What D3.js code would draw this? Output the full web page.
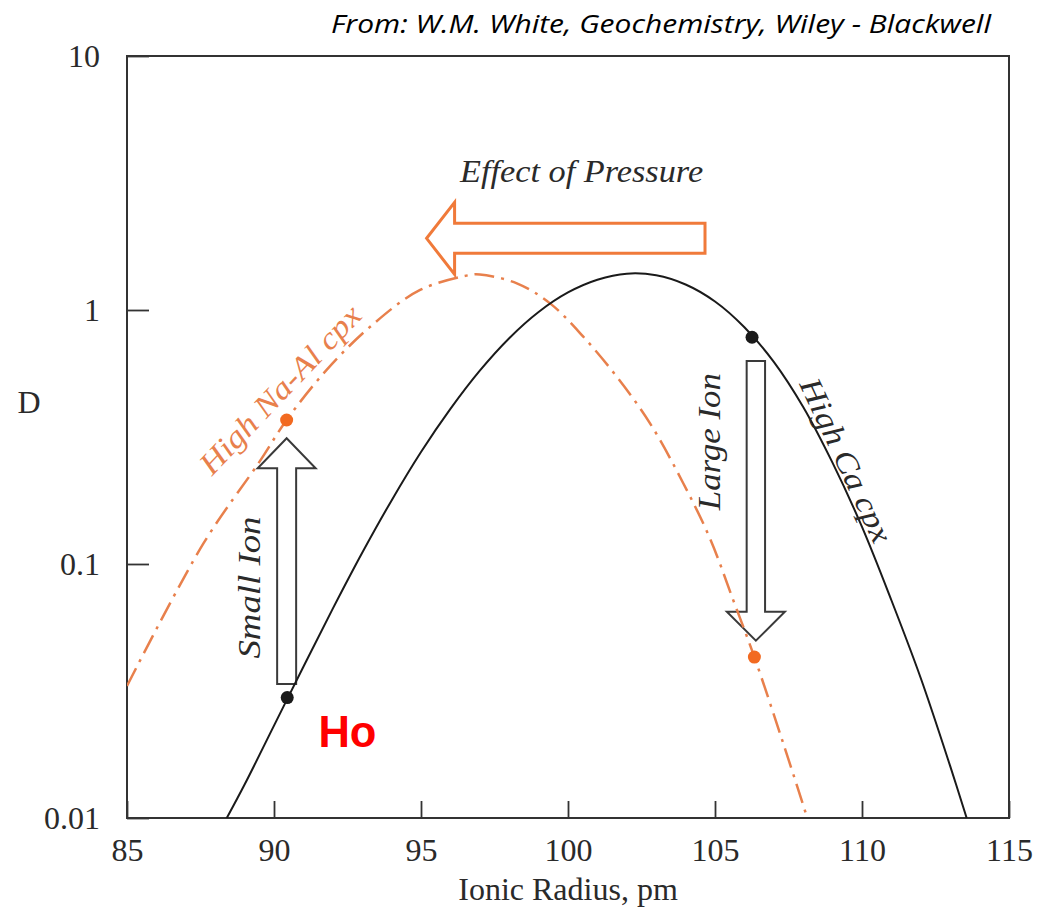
<!DOCTYPE html>
<html>
<head>
<meta charset="utf-8">
<script src="https://cdn.jsdelivr.net/npm/d3@7"></script>
<style>
  html, body { margin: 0; padding: 0; background: #fff; }
  svg { display: block; }
</style>
</head>
<body>
<svg id="chart" width="1038" height="913"></svg>
<script>
// ---------------- DATA ----------------
const xTicks = [85, 90, 95, 100, 105, 110, 115];
const yTicks = [10, 1, 0.1, 0.01];
const yTickLabels = ["10", "1", "0.1", "0.01"];

// High Ca cpx (black solid curve): ionic radius (pm) and D
const highCaR = [88.31, 89, 90, 91, 92, 93, 94, 95, 96, 97, 98, 99, 100, 101, 102, 103, 104, 105, 106, 107, 108, 109, 110, 111, 112, 113, 113.56];
const highCaD = [0.0096, 0.01355, 0.0231, 0.0394, 0.0667, 0.1107, 0.178, 0.276, 0.408, 0.577, 0.7745, 0.982, 1.172, 1.315, 1.39, 1.37, 1.26, 1.08, 0.855, 0.625, 0.415, 0.250, 0.140, 0.0720, 0.0355, 0.0160, 0.010];

// High Na-Al cpx (orange dash-dot curve)
const highNaR = [85.0, 87.60, 89.52, 90.43, 91.79, 93.27, 94.97, 96.67, 97.0, 98.26, 99.39, 100.52, 101.66, 102.79, 103.92, 104.83, 105.62, 106.34, 107.32, 108.14];
const highNaD = [0.0331, 0.1205, 0.254, 0.369, 0.581, 0.859, 1.199, 1.374, 1.38, 1.274, 1.062, 0.785, 0.546, 0.358, 0.208, 0.126, 0.0721, 0.043, 0.0197, 0.010];

// Highlighted ions (dots)
const dotR = [90.45, 106.26, 90.43, 106.34];
const dotD = [0.0298, 0.781, 0.369, 0.043];
const dotSeries = ["ca", "ca", "na", "na"];

// ---------------- SETUP ----------------
const svg = d3.select("#chart");
const x = d3.scaleLinear().domain([85, 115]).range([127, 1009]);
const y = d3.scaleLog().domain([0.01, 10]).range([818, 56]);

const serif = "'Liberation Serif', 'Times New Roman', serif";
const colOrange = "#e8804c";
const colOrangeDot = "#f26a21";
const colText = "#2a2a2a";

svg.append("defs").append("clipPath").attr("id", "plotclip")
  .append("rect")
  .attr("x", x(85)).attr("y", y(10))
  .attr("width", x(115) - x(85)).attr("height", y(0.01) - y(10));

// Title
svg.append("text")
  .attr("x", 991).attr("y", 33)
  .attr("text-anchor", "end")
  .attr("font-family", "'Open Sans', 'Noto Sans', sans-serif")
  .attr("font-style", "italic")
  .attr("font-size", 26)
  .attr("fill", "#000")
  .attr("textLength", 660)
  .attr("lengthAdjust", "spacingAndGlyphs")
  .text("From: W.M. White, Geochemistry, Wiley - Blackwell");

// Axes
const xAxis = d3.axisBottom(x).tickValues(xTicks)
  .tickSizeInner(-17).tickSizeOuter(0).tickPadding(20)
  .tickFormat(d3.format("d"));
const gx = svg.append("g").attr("transform", `translate(0,${y(0.01)})`).call(xAxis);
gx.select(".domain").remove();
gx.selectAll(".tick line").attr("stroke", "#333").attr("stroke-width", 1.8);
gx.selectAll(".tick text").attr("font-family", serif).attr("font-size", 32).attr("fill", colText);

const yAxis = d3.axisLeft(y).tickValues(yTicks)
  .tickSizeInner(-22).tickSizeOuter(0).tickPadding(27)
  .tickFormat((d, i) => yTickLabels[i]);
const gy = svg.append("g").attr("transform", `translate(${x(85)},0)`).call(yAxis);
gy.select(".domain").remove();
gy.selectAll(".tick line").attr("stroke", "#333").attr("stroke-width", 1.8);
gy.selectAll(".tick text").attr("font-family", serif).attr("font-size", 32).attr("fill", colText);

// Plot border
svg.append("rect")
  .attr("x", x(85)).attr("y", y(10))
  .attr("width", x(115) - x(85)).attr("height", y(0.01) - y(10))
  .attr("fill", "none").attr("stroke", "#333").attr("stroke-width", 2);

// Axis titles
svg.append("text")
  .attr("x", x(100)).attr("y", 900)
  .attr("text-anchor", "middle")
  .attr("font-family", serif).attr("font-size", 32).attr("fill", colText)
  .text("Ionic Radius, pm");
svg.append("text")
  .attr("x", 29).attr("y", 413)
  .attr("text-anchor", "middle")
  .attr("font-family", serif).attr("font-size", 32).attr("fill", colText)
  .text("D");

// ---------------- ARROWS ----------------
function vArrow(cx, yTail, yTip, shaftHalf, headHalf, headLen) {
  const dir = Math.sign(yTip - yTail);
  const yb = yTip - dir * headLen;
  return d3.line()([
    [cx - shaftHalf, yTail], [cx - shaftHalf, yb], [cx - headHalf, yb], [cx, yTip],
    [cx + headHalf, yb], [cx + shaftHalf, yb], [cx + shaftHalf, yTail]
  ]) + "Z";
}
function hArrow(cy, xTail, xTip, shaftHalf, headHalf, headLen) {
  const dir = Math.sign(xTip - xTail);
  const xb = xTip - dir * headLen;
  return d3.line()([
    [xTail, cy - shaftHalf], [xb, cy - shaftHalf], [xb, cy - headHalf], [xTip, cy],
    [xb, cy + headHalf], [xb, cy + shaftHalf], [xTail, cy + shaftHalf]
  ]) + "Z";
}

// Effect of pressure (orange, pointing left)
svg.append("path")
  .attr("d", hArrow(y(1.915), x(104.66), x(95.19), 15, 36, 28))
  .attr("fill", "#fff").attr("stroke", "#f07a3a").attr("stroke-width", 3)
  .attr("stroke-linejoin", "miter");
// Small ion (up)
svg.append("path")
  .attr("d", vArrow(x(90.43), y(0.0337), y(0.3125), 9.5, 29, 30))
  .attr("fill", "#fff").attr("stroke", "#3a3a3a").attr("stroke-width", 2);
// Large ion (down)
svg.append("path")
  .attr("d", vArrow(x(106.39), y(0.63), y(0.0499), 9.2, 29, 29))
  .attr("fill", "#fff").attr("stroke", "#3a3a3a").attr("stroke-width", 2);

// ---------------- CURVES ----------------
const line = d3.line().x(d => x(d[0])).y(d => y(d[1])).curve(d3.curveCatmullRom.alpha(0.5));
const plot = svg.append("g").attr("clip-path", "url(#plotclip)");

plot.append("path")
  .attr("d", line(highNaR.map((r, i) => [r, highNaD[i]])))
  .attr("fill", "none").attr("stroke", colOrange).attr("stroke-width", 2.5)
  .attr("stroke-dasharray", "20,7,3,7");

plot.append("path")
  .attr("d", line(highCaR.map((r, i) => [r, highCaD[i]])))
  .attr("fill", "none").attr("stroke", "#1a1a1a").attr("stroke-width", 2);

// Dots
svg.append("g").selectAll("circle")
  .data(dotR.map((r, i) => ({ r, D: dotD[i], s: dotSeries[i] })))
  .join("circle")
  .attr("cx", d => x(d.r)).attr("cy", d => y(d.D)).attr("r", 6.5)
  .attr("fill", d => d.s === "ca" ? "#1a1a1a" : colOrangeDot);

// ---------------- LABELS ----------------
function label(txt, r, D, angle, opts) {
  const px = x(r), py = y(D);
  svg.append("text")
    .attr("transform", `translate(${px},${py}) rotate(${angle})`)
    .attr("text-anchor", opts.anchor || "start")
    .attr("font-family", opts.family || serif)
    .attr("font-style", opts.style || "italic")
    .attr("font-weight", opts.weight || "normal")
    .attr("font-size", opts.size)
    .attr("fill", opts.fill || colText)
    .attr("textLength", opts.len)
    .attr("lengthAdjust", "spacingAndGlyphs")
    .text(txt);
}
label("Effect of Pressure", 96.33, 3.2, 0, { size: 32, len: 243 });
label("High Na-Al cpx", 87.89, 0.221, -46.5, { size: 31, len: 220, fill: colOrange });
label("Small Ion", 89.53, 0.0808, -90, { size: 32, len: 142, anchor: "middle" });
label("Large Ion", 105.17, 0.303, -90, { size: 32, len: 137, anchor: "middle" });
label("High Ca cpx", 107.86, 0.5113, 65, { size: 31, len: 178 });
label("Ho", 91.51, 0.0191, 0, { size: 45, len: 58, style: "normal", weight: "bold",
  family: "'Liberation Sans', Arial, sans-serif", fill: "#ff0000" });
</script>
</body>
</html>
